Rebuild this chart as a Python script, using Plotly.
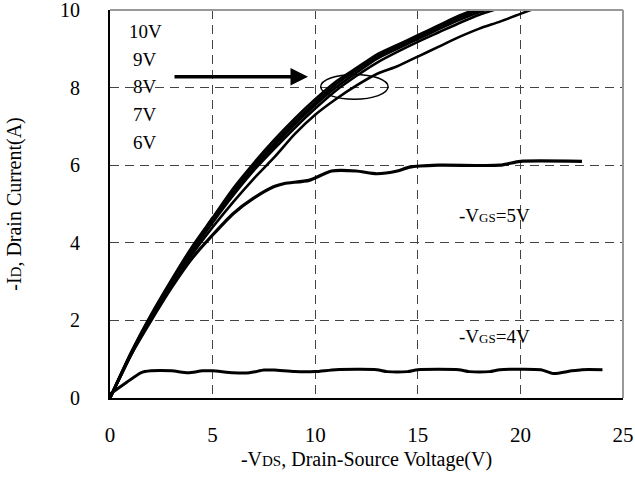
import plotly.graph_objects as go

# drain-source voltage samples for the bundle of high-gate-voltage curves
vds = [0, 1, 2, 3, 4, 5, 6, 7, 8, 9, 10, 11, 12, 13, 14, 15, 16, 17, 18, 19, 20, 21]

id_10v = [0, 1.15, 2.15, 3.05, 3.9, 4.65, 5.4, 6.05, 6.65, 7.2, 7.7, 8.15, 8.5, 8.85, 9.1, 9.35, 9.6, 9.85, 10.05, 10.2]
id_9v = [0, 1.12, 2.12, 3.0, 3.85, 4.6, 5.33, 5.98, 6.57, 7.12, 7.62, 8.08, 8.45, 8.8, 9.05, 9.3, 9.55, 9.8, 10.0, 10.15]
id_8v = [0, 1.1, 2.1, 2.98, 3.82, 4.56, 5.28, 5.93, 6.5, 7.05, 7.55, 8.0, 8.38, 8.74, 9.0, 9.25, 9.5, 9.74, 9.95, 10.1]
id_7v = [0, 1.08, 2.07, 2.95, 3.78, 4.52, 5.22, 5.86, 6.42, 6.96, 7.46, 7.92, 8.3, 8.64, 8.92, 9.18, 9.42, 9.66, 9.88, 10.05]
id_6v = [0, 1.1, 2.05, 2.9, 3.7, 4.4, 5.05, 5.65, 6.2, 6.8, 7.3, 7.7, 8.05, 8.35, 8.55, 8.8, 9.05, 9.3, 9.52, 9.7, 9.9, 10.1]

vds_5v = [0, 1, 2, 3, 4, 5, 6, 7, 8, 8.5, 9.7, 10.8, 12, 13, 14, 14.6, 16, 19, 20, 23]
id_5v = [0, 1.1, 2.0, 2.85, 3.6, 4.2, 4.75, 5.15, 5.45, 5.53, 5.61, 5.85, 5.85, 5.78, 5.85, 5.95, 6.0, 6.0, 6.1, 6.1]

vds_4v = [0, 0.8, 1.5, 2, 3, 3.8, 4.5, 5, 6, 6.8, 7.5, 8, 9, 10, 11, 13, 13.5, 14.5, 15, 17, 17.5, 18.5, 19, 21, 21.6, 22.5, 23, 24]
id_4v = [0.1, 0.4, 0.65, 0.7, 0.7, 0.65, 0.7, 0.7, 0.65, 0.65, 0.72, 0.72, 0.68, 0.68, 0.73, 0.73, 0.68, 0.68, 0.73, 0.73, 0.68, 0.68, 0.73, 0.73, 0.63, 0.7, 0.73, 0.73]

bundle_labels = ["10V", "9V", "8V", "7V", "6V"]
x_ticks = [0, 5, 10, 15, 20, 25]
y_ticks = [0, 2, 4, 6, 8, 10]

FONT = "Liberation Serif"

fig = go.Figure()

for ys in [id_10v, id_9v, id_8v, id_7v, id_6v]:
    fig.add_trace(go.Scatter(
        x=vds[:len(ys)], y=ys, mode="lines",
        line=dict(color="black", width=2.6, shape="spline", smoothing=0.6),
        showlegend=False, hoverinfo="skip",
    ))

fig.add_trace(go.Scatter(
    x=vds_5v, y=id_5v, mode="lines",
    line=dict(color="black", width=3.2, shape="spline", smoothing=0.6),
    showlegend=False, hoverinfo="skip",
))
fig.add_trace(go.Scatter(
    x=vds_4v, y=id_4v, mode="lines",
    line=dict(color="black", width=3, shape="spline", smoothing=0.6),
    showlegend=False, hoverinfo="skip",
))

# stacked gate-voltage labels
label_y = [9.45, 8.72, 8.02, 7.31, 6.58]
for lbl, yy in zip(bundle_labels, label_y):
    fig.add_annotation(x=1.71, y=yy, text=lbl, showarrow=False,
                       font=dict(family=FONT, size=19, color="black"))

# arrow pointing to the bundle, and the loop around it
fig.add_annotation(x=9.65, y=8.28, ax=3.07, ay=8.28, axref="x", ayref="y",
                   text="", showarrow=True, arrowhead=2, arrowsize=1,
                   arrowwidth=3.5, arrowcolor="black", standoff=0)
fig.add_shape(type="circle", x0=10.27, x1=13.55, y0=7.7, y1=8.34,
              line=dict(color="black", width=1.5))

sub = '<span style="font-size:13px">{}</span>'
fig.add_annotation(x=18.76, y=4.7, text="-V" + sub.format("GS") + "=5V", showarrow=False,
                   font=dict(family=FONT, size=19, color="black"))
fig.add_annotation(x=18.76, y=1.58, text="-V" + sub.format("GS") + "=4V", showarrow=False,
                   font=dict(family=FONT, size=19, color="black"))

# top and right frame lines are grey in the original
fig.add_shape(type="line", xref="paper", yref="paper", x0=0, x1=1, y0=1, y1=1,
              line=dict(color="#999999", width=2))
fig.add_shape(type="line", xref="paper", yref="paper", x0=1, x1=1, y0=0, y1=1,
              line=dict(color="#999999", width=2))

grid = dict(showgrid=True, gridcolor="#444444", gridwidth=1, griddash="9px,6px")

fig.update_xaxes(
    range=[0, 25], tickvals=x_ticks, zeroline=False, automargin=False,
    showline=True, linecolor="black", linewidth=2,
    ticks="", ticklabelstandoff=17, ticklabeloverflow="allow",
    tickfont=dict(family=FONT, size=21, color="black"),
    title=dict(text="-V" + '<span style="font-size:15px">DS</span>' + ", Drain-Source Voltage(V)",
               font=dict(family=FONT, size=20, color="black"), standoff=6),
    **grid,
)
fig.update_yaxes(
    range=[0, 10], tickvals=y_ticks, zeroline=False, automargin=False,
    showline=True, linecolor="black", linewidth=2,
    ticks="", ticklabelstandoff=24, ticklabeloverflow="allow",
    tickfont=dict(family=FONT, size=20, color="black"),
    title=dict(text="-I" + '<span style="font-size:15px">D</span>' + ", Drain Current(A)",
               font=dict(family=FONT, size=20, color="black"), standoff=33),
    **grid,
)

fig.update_layout(
    width=635, height=477,
    margin=dict(l=110, r=12, t=10, b=79),
    paper_bgcolor="white", plot_bgcolor="white",
    font=dict(family=FONT, color="black"),
)

fig.write_html("out.html", config={"displayModeBar": False},
               post_script="document.body.style.margin='0';")
